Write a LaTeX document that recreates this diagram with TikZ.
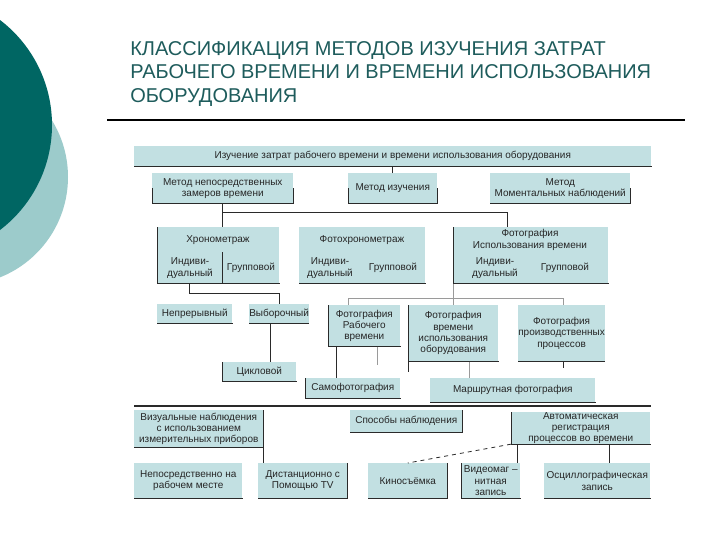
\documentclass[tikz,border=0pt]{standalone}
\usepackage{fontspec}
\setmainfont{Liberation Sans}
\usetikzlibrary{calc}
\definecolor{darkteal}{HTML}{006663}
\definecolor{lightteal}{HTML}{9CCBCB}
\definecolor{titlecol}{HTML}{1E5C5C}
\definecolor{boxfill}{HTML}{C2E0E2}
\definecolor{edgecol}{HTML}{2A2A2A}
\definecolor{graycol}{HTML}{9A9A9A}
\newcommand\bx[6]{\node[box, anchor=north west, minimum width={(#4-#2)*0.75pt}, minimum height={(#5-#3)*0.75pt}] (#1) at (#2,#3) {#6};
\draw[edge] (#1.south west) -- (#1.south east);}
\begin{document}
\begin{tikzpicture}[x=0.75pt,y=-0.75pt,
 box/.style={fill=boxfill, inner sep=0pt, align=center, font=\fontsize{7.5}{8.5}\selectfont, text=black!85},
 txt/.style={inner sep=0pt, align=center, font=\fontsize{7.5}{8.5}\selectfont, text=black!85},
 ln/.style={draw=edgecol, line width=0.6pt},
 gl/.style={draw=graycol, line width=0.6pt},
 edge/.style={draw=edgecol, line width=0.7pt}]
\useasboundingbox (0,0) rectangle (720,540);
\clip (0,0) rectangle (720,540);
\fill[white] (0,0) rectangle (720,540);
% decorative circles
\fill[lightteal] (-40,177) circle (108);
\fill[darkteal] (-80,125) circle (132);
% title
\node[anchor=north west, align=left, inner sep=0pt, text=titlecol,
      font=\fontsize{15}{17.6}\selectfont] (title) at (130,41)
 {КЛАССИФИКАЦИЯ МЕТОДОВ ИЗУЧЕНИЯ ЗАТРАТ\\
  РАБОЧЕГО ВРЕМЕНИ И ВРЕМЕНИ ИСПОЛЬЗОВАНИЯ\\
  ОБОРУДОВАНИЯ};
\coordinate (r1) at (107,120);
\coordinate (r2) at (685,120);
\draw[line width=0.8pt, black] (r1) -- (r2);

% top
\bx{top}{134}{146}{651}{166}{Изучение затрат рабочего времени и времени использования оборудования}
% row 2
\bx{mA}{152}{173}{293}{203}{Метод непосредственных\\замеров времени}
\bx{mB}{348}{173}{437}{203}{Метод изучения}
\bx{mC}{490}{173}{630}{203}{Метод\\Моментальных наблюдений}
\draw[edge] (mA.north west |- 0,188) -- (mA.south west);
\draw[edge] (mA.north east |- 0,188) -- (mA.south east);
\draw[edge] (mB.north west |- 0,188) -- (mB.south west);
\draw[edge] (mB.north east |- 0,188) -- (mB.south east);
\draw[edge] (mC.north east |- 0,188) -- (mC.south east);
% row 3
\bx{hr}{157}{227}{279}{283}{}
\node[txt] (hrT) at (218,240) {Хронометраж};
\node[txt] (hrI) at (190,268) {Индиви-\\дуальный};
\node[txt] (hrG) at (251,268) {Групповой};
\draw[edge] (222,252) -- (hr.south -| 222,0);
\draw[edge] (hr.north west) -- (hr.south west);
\bx{fh}{299}{227}{425}{283}{}
\node[txt] (fhT) at (362,240) {Фотохронометраж};
\node[txt] (fhI) at (330,268) {Индиви-\\дуальный};
\node[txt] (fhG) at (393,268) {Групповой};
\bx{fi}{453}{227}{608}{283}{}
\node[txt] (fiT) at (530,240) {Фотография\\Использования времени};
\node[txt] (fiI) at (495,268) {Индиви-\\дуальный};
\node[txt] (fiG) at (565,268) {Групповой};
\draw[edge] (fi.north west) -- (fi.south west);
% connectors upper
\draw[ln] (mB.north) -- (mB.north |- top.south);
\coordinate (j1) at (507,212);
\draw[ln] (mA.south) -- (mA.south |- hr.north);
\draw[ln] (mA.south |- j1) -- (j1) -- (j1 |- fi.north);
% row 4
\bx{np}{157}{304}{232}{323}{Непрерывный}
\bx{vb}{249}{304}{306}{323}{Выборочный}
\bx{cik}{222}{362}{296}{381}{Цикловой}
\draw[edge] (cik.north west) -- (cik.south west);
\coordinate (j2) at (189,293);
\draw[ln] (j2 |- hr.south) -- (j2) -| (vb.north);
\coordinate (j3) at (270,0);
\draw[ln] (vb.south -| j3) -- (cik.north -| j3);
\bx{frab}{328}{305}{400}{346}{Фотография\\Рабочего\\времени}
\draw[edge] (frab.north west) -- (frab.south west);
\bx{fr}{408}{305}{498}{361}{Фотография\\времени\\использования\\оборудования}
\draw[edge] (fr.north west) -- (fr.south west |- 0,372);
\bx{fp}{518}{305}{602}{361}{Фотография\\производственных\\процессов}
\coordinate (j4) at (348,298);
\coordinate (j5) at (563,298);
\draw[gl] (frab.north -| j4) -- (j4) -- (j5) -- (fp.north -| j5);
\draw[gl] (fi.south west) -- (fr.north -| fi.south west);
\draw[ln] (fp.south -| j5) -- ++(0,6);
\bx{samo}{305}{378}{400}{398}{Самофотография}
\draw[edge] (samo.north west) -- (samo.south west);
\bx{mar}{430}{378}{595}{402}{Маршрутная фотография}
\coordinate (j6) at (336,0);
\draw[ln] (frab.south -| j6) -- (samo.north -| j6);
\coordinate (j7) at (377,365);
\draw[gl] (frab.south -| j7) -- (j7);
\coordinate (j8) at (469,0);
\draw[gl] (fr.south -| j8) -- (mar.north -| j8);
% separator
\coordinate (s1) at (134,406);
\coordinate (s2) at (651,406);
\draw[line width=0.8pt, edgecol] (s1) -- (s2);
% row 5
\bx{viz}{134}{410}{263}{447}{Визуальные наблюдения\\с использованием\\измерительных приборов}
\bx{spo}{350}{410}{462}{432}{Способы наблюдения}
\draw[edge] (spo.north east) -- (spo.south east);
\bx{avt}{511}{412}{650}{443}{Автоматическая\\регистрация\\процессов во времени}
\draw[edge] (avt.north west) -- (avt.south west);
% row 6
\bx{nep}{134}{463}{242}{498}{Непосредственно на\\рабочем месте}
\bx{dis}{258}{463}{347}{498}{Дистанционно с\\Помощью TV}
\draw[edge] (dis.north east) -- (dis.south east);
\bx{kin}{368}{463}{447}{498}{Киносъёмка}
\draw[edge] (kin.north east) -- (kin.south east);
\bx{vid}{461}{463}{520}{498}{Видеомаг –\\нитная\\запись}
\draw[edge] (vid.north west) -- (vid.south west);
\bx{osc}{544}{463}{650}{498}{Осциллографическая\\запись}
% connectors lower
\draw[ln] (viz.north east) -- (viz.south east) -- (dis.north -| viz.south east);
\coordinate (j9) at (517,0);
\coordinate (j10) at (609,0);
\draw[ln] (avt.south -| j9) -- (vid.north -| j9);
\draw[ln] (avt.south -| j10) -- (osc.north -| j10);
\draw[ln, dashed] (avt.south west) -- (kin.north);
\end{tikzpicture}
\end{document}
